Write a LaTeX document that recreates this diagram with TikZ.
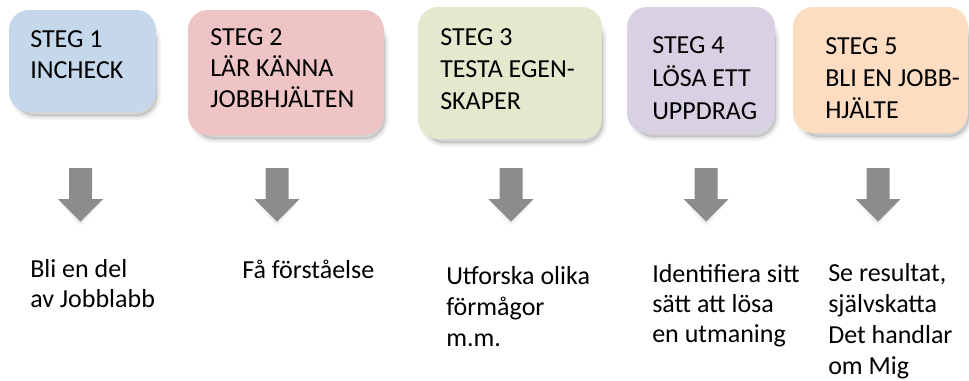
\documentclass[tikz,border=0pt]{standalone}
\usepackage{fontspec}
\setmainfont{Carlito}

\definecolor{cardblue}{RGB}{197,215,235}
\definecolor{cardpink}{RGB}{239,196,196}
\definecolor{cardgreen}{RGB}{227,233,205}
\definecolor{cardlilac}{RGB}{216,208,227}
\definecolor{cardpeach}{RGB}{252,221,194}
\definecolor{arrowgrey}{RGB}{140,140,140}

\tikzset{
  stepcard/.style={draw=none, inner sep=0pt, rounded corners=15pt},
  captext/.style={anchor=base west, inner sep=0pt, text=black,
    font=\fontsize{19.5}{#1}\selectfont},
  captext/.default=23.25pt,
  softshade/.style={black, opacity=0.045, line join=round, rounded corners=15pt},
}

% soft shadow under a card given by its corners (px, y downwards)
\newcommand\cardshadow[4]{%
  \foreach \w in {8,5,2}{%
    \filldraw[softshade, line width=\w*0.75pt]
      (#1+6,#2+12) rectangle (#3+1,#4+4);
  }%
}

% a card: name, x1, y1, x2, y2, colour
\newcommand\stepcardat[6]{%
  \cardshadow{#2}{#3}{#4}{#5}
  \node[stepcard, fill=#6,
        minimum width={(#4-#2)*0.75pt}, minimum height={(#5-#3)*0.75pt}]
    (#1) at ({(#2+#4)/2},{(#3+#5)/2}) {};
}

% grey block arrow pointing down, centred on x = #1
\newcommand\blockarrow[1]{%
  \foreach \w in {7,4}{%
    \filldraw[black, opacity=0.035, line join=round, line width=\w*0.75pt]
      (#1-16,203) -- (#1+16,203) -- (#1,222) -- cycle;
  }%
  \fill[arrowgrey] (#1-11.5,168) -- (#1+11.5,168) -- (#1+11.5,199)
    -- (#1+22.5,199) -- (#1,221.5) -- (#1-22.5,199) -- (#1-11.5,199) -- cycle;
}

\newcommand\rows[1]{\begin{tabular}[t]{@{}l@{}}#1\end{tabular}}

\begin{document}
\begin{tikzpicture}[x=0.75pt, y=-0.75pt]
  \useasboundingbox (0,0) rectangle (969,380);

  % step cards
  \stepcardat{s1}{9}{10}{156}{112}{cardblue}
  \stepcardat{s2}{188}{10}{384}{135}{cardpink}
  \stepcardat{s3}{418}{7}{602}{139}{cardgreen}
  \stepcardat{s4}{627}{7}{775}{133}{cardlilac}
  \stepcardat{s5}{793}{7}{968}{133}{cardpeach}

  \node[captext=23.25pt] (t1) at (30,47)  {\rows{STEG 1\\INCHECK}};
  \node[captext=23.25pt] (t2) at (210,45) {\rows{STEG 2\\LÄR KÄNNA\\JOBBHJÄLTEN}};
  \node[captext=24pt]    (t3) at (440,45) {\rows{STEG 3\\TESTA EGEN-\\SKAPER}};
  \node[captext=24.75pt] (t4) at (652,53) {\rows{STEG 4\\LÖSA ETT\\UPPDRAG}};
  \node[captext=24pt]    (t5) at (825,54) {\rows{STEG 5\\BLI EN JOBB-\\HJÄLTE}};

  % arrows
  \blockarrow{80.5}
  \blockarrow{277}
  \blockarrow{511}
  \blockarrow{706}
  \blockarrow{878}

  % outcomes
  \node[captext=22.5pt]  (o1) at (30,277)  {\rows{Bli en del\\av Jobblabb}};
  \node[captext=23.25pt] (o2) at (242,278) {\rows{Få förståelse}};
  \node[captext=23.25pt] (o3) at (446,284) {\rows{Utforska olika\\förmågor\\m.m.}};
  \node[captext=22.5pt]  (o4) at (652,282) {\rows{Identifiera sitt\\sätt att lösa\\en utmaning}};
  \node[captext=23.25pt] (o5) at (828,281) {\rows{Se resultat,\\självskatta\\Det handlar\\om Mig}};
\end{tikzpicture}
\end{document}
